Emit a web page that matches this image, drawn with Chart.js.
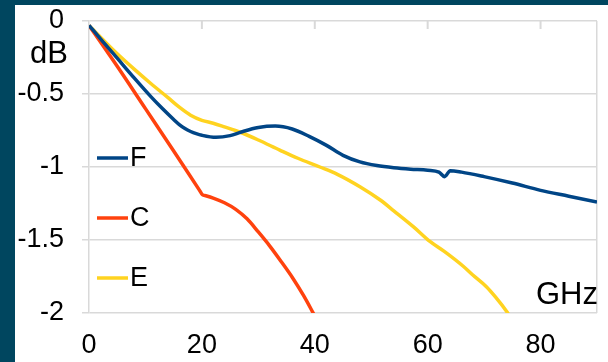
<!DOCTYPE html>
<html>
<head>
<meta charset="utf-8">
<script src="https://cdn.jsdelivr.net/npm/chart.js@4.4.1/dist/chart.umd.min.js"></script>
<style>
  body { margin: 0; background: #00465f; width: 608px; height: 362px; overflow: hidden; }
  #box { position: absolute; left: 15px; top: 5px; width: 593px; height: 357px; background: #fff; }
</style>
</head>
<body>
<div id="box"><canvas id="myChart" width="593" height="357"></canvas></div>
<script>
'use strict'

// F curve (blue)
let fFreq = [0, 2, 5, 8, 11, 13, 15, 16, 17, 18, 19, 20, 22.5, 25, 27, 30, 33, 36, 39, 42, 45, 48, 51, 54, 57, 60, 62, 63, 64, 66, 70, 75, 80, 85, 90];
let fLoss = [-0.03, -0.12, -0.255, -0.39, -0.52, -0.60, -0.675, -0.71, -0.737, -0.757, -0.772, -0.783, -0.797, -0.785, -0.76, -0.73, -0.72, -0.74, -0.79, -0.85, -0.92, -0.965, -0.99, -1.005, -1.015, -1.022, -1.035, -1.066, -1.025, -1.035, -1.066, -1.11, -1.16, -1.20, -1.24];

// C curve (red)
let cFreq = [0, 5, 10, 15, 19.5, 20.1, 20.7, 22, 24, 26, 28, 30, 32, 34, 36, 38, 40, 41];
let cLoss = [-0.03, -0.31, -0.60, -0.89, -1.155, -1.19, -1.197, -1.213, -1.245, -1.29, -1.355, -1.445, -1.54, -1.645, -1.755, -1.88, -2.02, -2.09];

// E curve (yellow)
let eFreq = [0, 2, 5, 8, 11, 14, 16, 18, 20, 22, 24, 26.8, 30, 33.8, 37, 40.9, 44, 48, 51.6, 54, 57.5, 60.4, 63, 66.3, 68, 70.4, 72, 74, 75];
let eLoss = [-0.03, -0.11, -0.225, -0.33, -0.43, -0.525, -0.59, -0.645, -0.68, -0.70, -0.725, -0.762, -0.815, -0.884, -0.94, -1.0, -1.05, -1.135, -1.226, -1.30, -1.41, -1.51, -1.58, -1.68, -1.74, -1.82, -1.89, -1.99, -2.05];

let seriesNames = ['F', 'C', 'E'];
let seriesColors = ['#004586', '#ff420e', '#ffd320'];

let xTicks = [0, 20, 40, 60, 80];
let yTicks = [0, -0.5, -1, -1.5, -2];

function toPoints(xs, ys) {
  return xs.map((x, i) => ({ x: x, y: ys[i] }));
}

let gridColor = '#d9d9d9';
let font = 'Liberation Sans, Arial, sans-serif';

// little tick marks along the top edge + dB / GHz labels + legend
let extras = {
  id: 'extras',
  beforeDatasetsDraw(chart) {
    let ctx = chart.ctx;
    let a = chart.chartArea;
    let xs = chart.scales.x;
    ctx.save();
    ctx.strokeStyle = gridColor;
    ctx.lineWidth = 2;
    xTicks.forEach(v => {
      if (v === 0) return;
      let px = xs.getPixelForValue(v);
      ctx.beginPath();
      ctx.moveTo(px, a.top);
      ctx.lineTo(px, a.top + 8);
      ctx.stroke();
    });
    ctx.restore();
  },
  afterDatasetsDraw(chart) {
    let ctx = chart.ctx;
    let a = chart.chartArea;
    ctx.save();
    ctx.fillStyle = '#000';
    ctx.textBaseline = 'middle';
    ctx.textAlign = 'right';
    ctx.font = '31px ' + font;
    ctx.fillText('dB', a.left - 21, a.top + 33);
    ctx.fillText('GHz', a.right + 1, a.bottom - 18);

    ctx.textAlign = 'left';
    ctx.font = '27px ' + font;
    chart.data.datasets.forEach((ds, i) => {
      let y = a.top + 137 + i * 60;
      ctx.strokeStyle = ds.borderColor;
      ctx.lineWidth = 3.5;
      ctx.beginPath();
      ctx.moveTo(a.left + 8, y);
      ctx.lineTo(a.left + 39, y);
      ctx.stroke();
      ctx.fillStyle = '#000';
      ctx.fillText(ds.label, a.left + 41, y + 1);
    });
    ctx.restore();
  }
};

const data = {
  datasets: [
    { label: seriesNames[0], data: toPoints(fFreq, fLoss), borderColor: seriesColors[0] },
    { label: seriesNames[1], data: toPoints(cFreq, cLoss), borderColor: seriesColors[1] },
    { label: seriesNames[2], data: toPoints(eFreq, eLoss), borderColor: seriesColors[2] }
  ]
};

const config = {
  type: 'line',
  data: data,
  options: {
    responsive: false,
    animation: false,
    devicePixelRatio: 1,
    layout: { padding: { top: 16, right: 11, left: 0, bottom: 0 } },
    elements: {
      line: { borderWidth: 3.5, cubicInterpolationMode: 'monotone', fill: false },
      point: { radius: 0 }
    },
    plugins: { legend: { display: false }, tooltip: { enabled: false } },
    scales: {
      x: {
        type: 'linear',
        min: 0,
        max: 90,
        afterBuildTicks: s => { s.ticks = xTicks.concat([90]).map(v => ({ value: v })); },
        afterFit: s => { s.height = 49; s.paddingLeft = 0; s.paddingRight = 0; },
        ticks: {
          padding: 16,
          color: '#000',
          font: { family: font, size: 27 },
          maxRotation: 0,
          callback: v => (v === 90 ? '' : String(v))
        },
        grid: {
          drawTicks: false,
          lineWidth: 1.5,
          color: c => (c.tick && c.tick.value === 90 ? gridColor : 'rgba(0,0,0,0)')
        },
        border: { display: false }
      },
      y: {
        min: -2,
        max: 0,
        afterBuildTicks: s => { s.ticks = yTicks.map(v => ({ value: v })); },
        afterFit: s => { s.width = 74; s.paddingTop = 0; s.paddingBottom = 0; },
        ticks: {
          padding: 18,
          color: '#000',
          font: { family: font, size: 27 },
          callback: v => String(v)
        },
        grid: { color: gridColor, lineWidth: 1.5, tickLength: 7 },
        border: { color: gridColor, width: 1.5 }
      }
    }
  },
  plugins: [extras]
};

var myChart = new Chart(document.getElementById('myChart'), config);
</script>
</body>
</html>
